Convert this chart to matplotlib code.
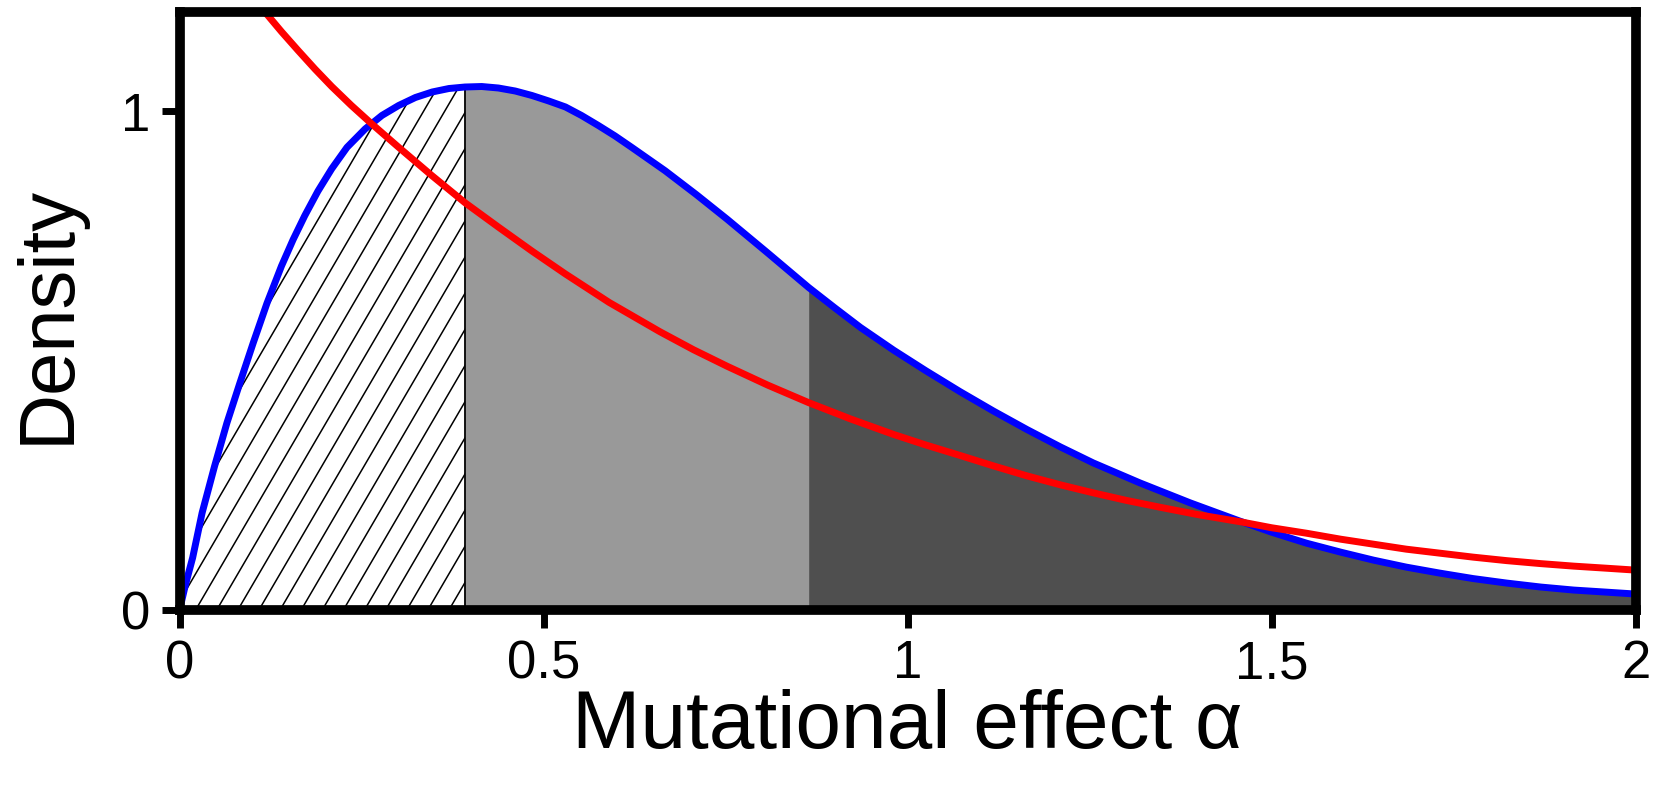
import matplotlib.pyplot as plt
import numpy as np

# blue curve
blue_x = [0.0, 0.008, 0.018, 0.031, 0.048, 0.065, 0.083, 0.101, 0.120, 0.140,
          0.156, 0.172, 0.190, 0.209, 0.230, 0.255, 0.278, 0.301, 0.324, 0.347,
          0.370, 0.392, 0.415, 0.438, 0.461, 0.484, 0.507, 0.530, 0.552, 0.575,
          0.598, 0.621, 0.667, 0.710, 0.752, 0.808, 0.864, 0.900, 0.935, 0.981,
          1.025, 1.072, 1.118, 1.164, 1.210, 1.255, 1.319, 1.388, 1.457, 1.500,
          1.548, 1.595, 1.640, 1.685, 1.731, 1.777, 1.823, 1.870, 1.915, 1.958, 2.0]
blue_y = [0.0, 0.050, 0.105, 0.195, 0.288, 0.375, 0.456, 0.535, 0.615, 0.690,
          0.743, 0.791, 0.840, 0.885, 0.928, 0.965, 0.992, 1.012, 1.028, 1.039,
          1.046, 1.049, 1.050, 1.047, 1.041, 1.032, 1.021, 1.009, 0.992, 0.972,
          0.951, 0.928, 0.881, 0.833, 0.784, 0.716, 0.647, 0.606, 0.567, 0.521,
          0.480, 0.438, 0.399, 0.362, 0.327, 0.295, 0.255, 0.215, 0.178, 0.156,
          0.134, 0.116, 0.100, 0.086, 0.074, 0.063, 0.054, 0.046, 0.040, 0.036, 0.032]

# red curve
red_x = [0.105, 0.117, 0.140, 0.163, 0.186, 0.209, 0.236, 0.264, 0.301, 0.346,
         0.392, 0.438, 0.484, 0.530, 0.590, 0.660, 0.706, 0.752, 0.808, 0.864,
         0.922, 0.981, 1.025, 1.072, 1.118, 1.164, 1.210, 1.255, 1.300, 1.347,
         1.400, 1.457, 1.500, 1.548, 1.595, 1.640, 1.685, 1.731, 1.777, 1.823,
         1.870, 1.915, 1.958, 2.0]
red_y = [1.215, 1.200, 1.160, 1.122, 1.085, 1.050, 1.012, 0.975, 0.928, 0.872,
         0.817, 0.768, 0.720, 0.674, 0.617, 0.558, 0.522, 0.489, 0.451, 0.416,
         0.383, 0.352, 0.331, 0.310, 0.289, 0.269, 0.251, 0.235, 0.220, 0.206,
         0.191, 0.177, 0.165, 0.154, 0.142, 0.132, 0.122, 0.114, 0.106, 0.099,
         0.093, 0.088, 0.084, 0.080]

# shaded region limits
hatch_end = 0.392
light_end = 0.864

x_ticks = [0, 0.5, 1, 1.5, 2]
x_tick_labels = ['0', '0.5', '1', '1.5', '2']
y_ticks = [0, 1]
y_tick_labels = ['0', '1']

fig = plt.figure(figsize=(16.75, 7.87), dpi=100)
ax = fig.add_axes([0.1072, 0.2249, 0.8693, 0.7602])

bx = np.array(blue_x)
by = np.array(blue_y)

# filled areas under the blue curve
hatch_poly = ax.fill_between(bx, by, where=bx <= hatch_end, color='white', lw=0, zorder=1)
ax.fill_between(bx, by, where=(bx >= hatch_end) & (bx <= light_end),
                color='#999999', lw=0, zorder=1)
ax.fill_between(bx, by, where=bx >= light_end, color='#4f4f4f', lw=0, zorder=1)

# steep hatching, clipped to the first region
slope = 2.5
step = 0.029
clip = hatch_poly.get_paths()[0]
for c in np.arange(-0.5, hatch_end, step):
    ln, = ax.plot([c, c + 1.3 / slope], [0, 1.3], color='black', lw=1.1, zorder=1.2)
    ln.set_clip_path(clip, ax.transData)

# thin edge of the hatched region
ax.plot([hatch_end, hatch_end], [0, np.interp(hatch_end, bx, by)],
        color='black', lw=1.3, zorder=1.3)

ax.plot(bx, by, color='#0000ff', lw=5, zorder=2, solid_joinstyle='round')
ax.plot(red_x, red_y, color='#ff0000', lw=5, zorder=2.1, solid_joinstyle='round')

ax.set_xlim(0, 2)
ax.set_ylim(0, 1.2)

for s in ax.spines.values():
    s.set_linewidth(7)
    s.set_zorder(3)

tick_font = ['Liberation Sans Narrow', 'Liberation Sans', 'DejaVu Sans']
ax.set_xticks(x_ticks)
ax.set_xticklabels(x_tick_labels, family=tick_font, fontsize=38)
ax.set_yticks(y_ticks)
ax.set_yticklabels(y_tick_labels, family=tick_font, fontsize=38)
ax.tick_params(direction='out', length=13, width=5)
ax.tick_params(axis='x', pad=8)
ax.tick_params(axis='y', pad=8)

fig.text(0.5419, 0.0496, 'Mutational effect \u03b1', ha='center', va='baseline',
         fontsize=59, family=['Liberation Sans', 'DejaVu Sans'])
fig.text(0.0287, 0.600, 'Density', ha='center', va='center', rotation=90,
         fontsize=56, family=['Liberation Sans', 'DejaVu Sans'])

fig.savefig('out.png', dpi=100)
